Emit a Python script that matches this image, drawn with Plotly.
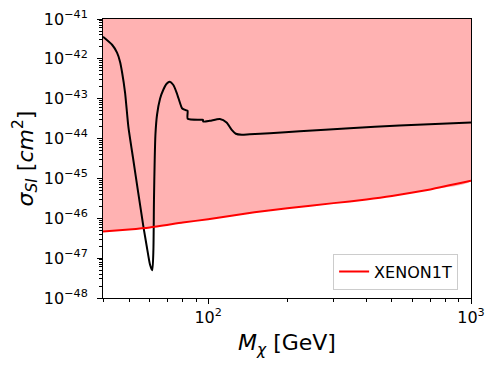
import math
import plotly.graph_objects as go

# ---- data ----
model_mass = [39.8, 43.1, 45.0, 46.2, 47.0, 48.3, 49.7, 51.9, 54.2, 56.7, 58.4, 60.1, 61.3,
              61.9, 62.2, 62.6, 63.0, 63.9, 65.6, 67.5, 69.5, 71.5, 73.6, 75.9, 78.1, 79.5,
              82.3, 83.5, 83.6, 94.4, 95.5, 95.7, 101.5, 110.8, 117.5, 122.7, 127.4, 134.3,
              144.0, 171.5, 222.9, 345.0, 534.0, 1000.0]
model_sigma = [3.6e-42, 2.26e-42, 1.43e-42, 8.5e-43, 4.75e-43, 1.41e-43, 2.0e-44, 2.94e-45,
               4.36e-46, 6.2e-47, 1.96e-47, 6.8e-48, 4.95e-48,
               1.62e-47, 2.91e-46, 2.94e-45, 1.25e-44, 3.96e-44, 1.0e-43, 1.68e-43, 2.38e-43,
               2.67e-43, 2.24e-43, 1.41e-43, 7.9e-44, 5.77e-44,
               5.14e-44, 4.99e-44, 3.14e-44, 2.97e-44, 2.97e-44, 2.69e-44, 2.80e-44, 3.09e-44,
               2.54e-44, 1.67e-44, 1.32e-44, 1.25e-44,
               1.29e-44, 1.36e-44, 1.53e-44, 1.82e-44, 2.13e-44, 2.54e-44]

xenon_mass = [39.8, 50, 60, 80, 100, 150, 200, 300, 400, 500, 700, 1000]
xenon_sigma = [4.68e-47, 5.25e-47, 5.9e-47, 7.8e-47, 9.5e-47, 1.41e-46, 1.78e-46, 2.4e-46,
               2.95e-46, 3.6e-46, 5.3e-46, 8.7e-46]

Y_TOP = 1e-41
Y_BOTTOM = 1e-48
X_MIN, X_MAX = 39.8, 1000

x_tick_vals = [100, 1000]
x_tick_text = ["10<sup>2</sup>", "10<sup>3</sup>"]
y_exponents = [-48, -47, -46, -45, -44, -43, -42, -41]
y_tick_vals = [10.0 ** e for e in y_exponents]
y_tick_text = ["10<sup>\u2212%d</sup>" % (-e) for e in y_exponents]

x_minor = [m * 10 ** d for d in (1, 2) for m in range(2, 10) if X_MIN <= m * 10 ** d <= X_MAX]
y_minor = [m * 10.0 ** d for d in range(-48, -41) for m in range(2, 10)]

FONT = "DejaVu Sans"

fig = go.Figure()

# shaded excluded region above XENON1T
fig.add_trace(go.Scatter(
    x=xenon_mass + xenon_mass[::-1],
    y=xenon_sigma + [Y_TOP] * len(xenon_mass),
    fill="toself", fillcolor="rgba(255,0,0,0.3)",
    line=dict(width=0, shape="spline", smoothing=0.5), mode="lines",
    showlegend=False, hoverinfo="skip"))

fig.add_trace(go.Scatter(
    x=model_mass, y=model_sigma, mode="lines",
    line=dict(color="black", width=2, shape="spline", smoothing=0.6), showlegend=False))

fig.add_trace(go.Scatter(
    x=xenon_mass, y=xenon_sigma, mode="lines", name="XENON1T",
    line=dict(color="red", width=2, shape="spline", smoothing=0.5)))

axis_common = dict(
    showline=True, linecolor="black", linewidth=1, mirror=True,
    ticks="outside", tickcolor="black", ticklen=5, tickwidth=1,
    showgrid=False, zeroline=False, automargin=False,
    ticklabeloverflow="allow",
    tickfont=dict(family=FONT, size=16, color="black"),
)

fig.update_xaxes(
    type="log", range=[math.log10(X_MIN), math.log10(X_MAX)],
    tickmode="array", tickvals=x_tick_vals, ticktext=x_tick_text,
    minor=dict(tickmode="array", tickvals=x_minor, ticks="outside", ticklen=3,
               tickcolor="black", showgrid=False),
    title=dict(text="<i>M</i><sub><i>\u03c7</i></sub> [GeV]",
               font=dict(family=FONT, size=22, color="black"), standoff=8),
    **axis_common)

fig.update_yaxes(
    type="log", range=[math.log10(Y_BOTTOM), math.log10(Y_TOP)],
    tickmode="array", tickvals=y_tick_vals, ticktext=y_tick_text,
    ticklabelstandoff=6,
    minor=dict(tickmode="array", tickvals=y_minor, ticks="outside", ticklen=3,
               tickcolor="black", showgrid=False),
    title=dict(text="<i>\u03c3</i><sub><i>SI</i></sub> [<i>cm</i><sup>2</sup>]",
               font=dict(family=FONT, size=22, color="black"), standoff=4),
    **axis_common)

# the page body has an 8px default margin, so the figure is 8px smaller on each side
fig.update_layout(
    width=490, height=366,
    margin=dict(l=95, r=27, t=11, b=76),
    paper_bgcolor="white", plot_bgcolor="white",
    font=dict(family=FONT, size=16, color="black"),
    legend=dict(x=0.965, y=0.03, xanchor="right", yanchor="bottom",
                bgcolor="rgba(255,255,255,0.85)", bordercolor="#cccccc", borderwidth=1,
                font=dict(family=FONT, size=16, color="black")),
)

fig.write_html("out.html")
